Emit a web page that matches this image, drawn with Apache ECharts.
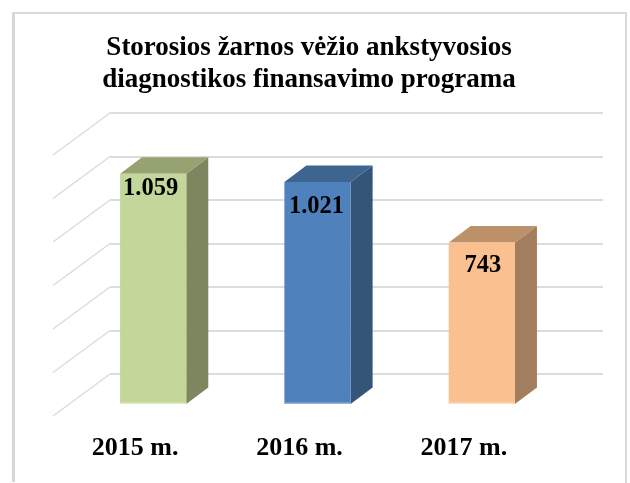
<!DOCTYPE html>
<html><head><meta charset="utf-8">
<style>html,body{margin:0;padding:0;background:#fff}#c{width:630px;height:483px}</style>
<script src="https://cdn.jsdelivr.net/npm/echarts@6/dist/echarts.min.js"></script>
</head><body><div id="c"></div>
<script>
var titleText = "Storosios žarnos vėžio ankstyvosios\ndiagnostikos finansavimo programa";
var categories = ["2015 m.", "2016 m.", "2017 m."];
var values = [1059, 1021, 743];
var gridTicks = [0, 200, 400, 600, 800, 1000, 1200];
var frontColors = ["#C4D79B", "#4F81BD", "#FAC090"];
var sideColors = ["#7E8660", "#335578", "#A37E5E"];
var topColors = ["#97A273", "#3E6490", "#BC9069"];
var baseColors = ["#DDE8C4", "#95B3D7", "#FCDCC3"];
var labelNudge = [[-2.5, 15], [-1, 25], [1, 23]];

var chart = echarts.init(document.getElementById('c'), null, {renderer: 'canvas'});
function fmt(v) { return v >= 1000 ? Math.floor(v / 1000) + '.' + String(v % 1000).padStart(3, '0') : String(v); }
var SERIF = '"Liberation Serif","Times New Roman",serif';

function renderBar(params, api) {
  var i = api.value(0), v = api.value(1);
  var p = api.coord([i, v]), b = api.coord([i, 0]);
  var w = api.size([1, 0])[0] * 0.403;
  var fx = p[0] - 39 - w / 2, fx2 = fx + w;
  var ft = p[1] + 30, fb = b[1] + 30;
  var dx = 22, dy = 16.5;
  var n = labelNudge[i];
  return {type: 'group', children: [
    {type: 'polygon', shape: {points: [[fx2, ft], [fx2 + dx, ft - dy], [fx2 + dx, fb - dy], [fx2, fb]]}, style: {fill: sideColors[i]}},
    {type: 'polygon', shape: {points: [[fx, ft], [fx + dx, ft - dy], [fx2 + dx, ft - dy], [fx2, ft]]}, style: {fill: topColors[i]}},
    {type: 'rect', shape: {x: fx, y: ft, width: w, height: fb - ft}, style: {fill: frontColors[i]}},
    {type: 'rect', shape: {x: fx, y: fb - 1.5, width: w, height: 1.5}, style: {fill: baseColors[i]}},
    {type: 'text', x: fx + w / 2 + n[0], y: ft + n[1], style: {text: fmt(v), fill: '#000', font: 'bold 24.5px ' + SERIF, align: 'center', verticalAlign: 'middle'}}
  ]};
}
function renderDiag(params, api) {
  var v = api.value(1);
  var y = api.coord([0, v])[1], x = params.coordSys.x;
  return {type: 'line', shape: {x1: x, y1: y, x2: x - 57, y2: y + 42}, style: {stroke: '#DCDCDC', lineWidth: 1.5}};
}
chart.setOption({
  animation: false,
  backgroundColor: '#fff',
  title: {text: titleText, left: 304, top: 27, textAlign: 'center',
    textStyle: {fontFamily: SERIF, fontWeight: 'bold', fontSize: 27, lineHeight: 32, color: '#000'}},
  grid: {left: 110, right: 27, top: 113, bottom: 109, containLabel: false},
  xAxis: {type: 'category', data: categories, axisLine: {show: false}, axisTick: {show: false},
    axisLabel: {interval: 0, margin: 61, color: '#000', fontFamily: SERIF, fontWeight: 'bold', fontSize: 26, padding: [0, 114, 0, 0]}},
  yAxis: {type: 'value', min: 0, max: 1200, interval: 200, axisLine: {show: false}, axisTick: {show: false}, axisLabel: {show: false},
    splitLine: {show: true, lineStyle: {color: '#DCDCDC', width: 2}}},
  series: [
    {type: 'custom', renderItem: renderDiag, clip: false, silent: true, encode: {x: 0, y: 1},
      data: gridTicks.map(function (t) { return [0, t]; })},
    {type: 'custom', renderItem: renderBar, clip: false, silent: true, encode: {x: 0, y: 1},
      data: values.map(function (v, i) { return [i, v]; })}
  ],
  graphic: [
    {type: 'line', shape: {x1: 13.5, y1: 12, x2: 13.5, y2: 482}, style: {stroke: '#D6D6D6', lineWidth: 3}, silent: true},
    {type: 'line', shape: {x1: 12, y1: 13, x2: 627, y2: 13}, style: {stroke: '#D9D9D9', lineWidth: 2}, silent: true},
    {type: 'line', shape: {x1: 626, y1: 12, x2: 626, y2: 483}, style: {stroke: '#D9D9D9', lineWidth: 2}, silent: true}
  ]
});
</script></body></html>
